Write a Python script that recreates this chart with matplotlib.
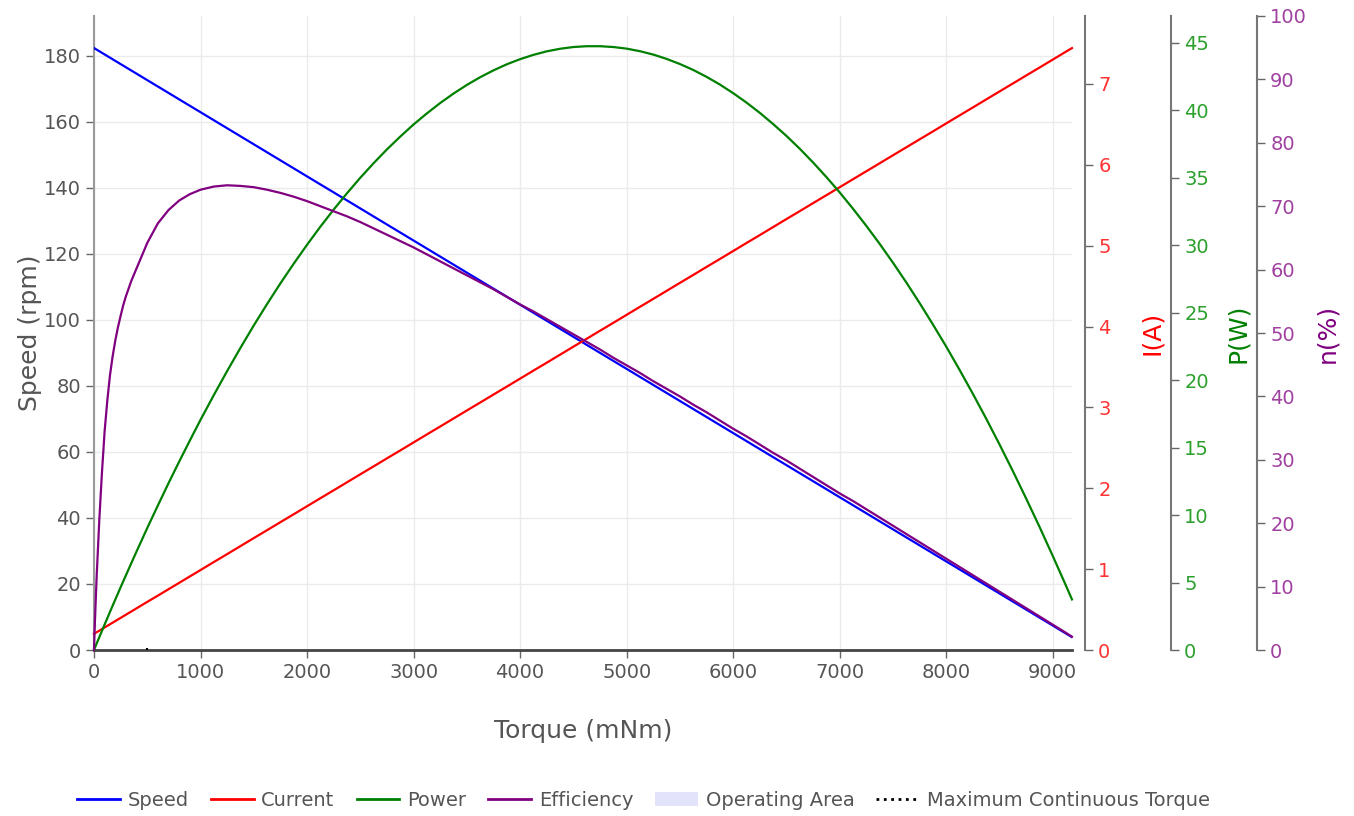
import numpy as np
import matplotlib
matplotlib.use("Agg")
import matplotlib.pyplot as plt
from matplotlib.lines import Line2D
from matplotlib.patches import Patch

# values (torque in mNm)
torque = [0, 10, 25, 50, 75, 100, 125, 150, 175, 200, 225, 250, 275, 300, 350, 400, 500,
          600, 700, 800, 900,
          1000, 1125, 1250, 1375, 1500, 1625, 1750, 1875, 2000, 2125, 2250, 2375, 2500,
          2625, 2750, 2875, 3000, 3125, 3250, 3375, 3500, 3625, 3750, 3875, 4000, 4125,
          4250, 4375, 4500, 4625, 4750, 4875, 5000, 5125, 5250, 5375, 5500, 5625, 5750,
          5875, 6000, 6125, 6250, 6375, 6500, 6625, 6750, 6875, 7000, 7125, 7250, 7375,
          7500, 7625, 7750, 7875, 8000, 8125, 8250, 8375, 8500, 8625, 8750, 8875, 9000,
          9125, 9180]
speed = [182.30, 182.11, 181.81, 181.33, 180.84, 180.36, 179.87, 179.39, 178.90, 178.41,
         177.93, 177.44, 176.96, 176.47,
         175.50, 174.53, 172.58, 170.64, 168.70, 166.75, 164.81, 162.87, 160.44, 158.01,
         155.58, 153.15, 150.72, 148.29, 145.86, 143.43, 141.00, 138.58, 136.15, 133.72,
         131.29, 128.86, 126.43, 124.00, 121.57, 119.14, 116.71, 114.28, 111.86, 109.43,
         107.00, 104.57, 102.14, 99.71, 97.28, 94.85, 92.42, 89.99, 87.56, 85.14, 82.71,
         80.28, 77.85, 75.42, 72.99, 70.56, 68.13, 65.70, 63.27, 60.84, 58.41, 55.99,
         53.56, 51.13, 48.70, 46.27, 43.84, 41.41, 38.98, 36.55, 34.12, 31.69, 29.26,
         26.84, 24.41, 21.98, 19.55, 17.12, 14.69, 12.26, 9.83, 7.40, 4.97, 3.90]
current = [0.200, 0.208, 0.220, 0.239, 0.259, 0.279, 0.299, 0.318, 0.338, 0.358, 0.378,
           0.397, 0.417, 0.437, 0.476,
           0.516, 0.595, 0.673, 0.752, 0.831, 0.910, 0.989, 1.088, 1.186, 1.285, 1.384,
           1.482, 1.581, 1.679, 1.778, 1.877, 1.975, 2.074, 2.173, 2.271, 2.370, 2.468,
           2.567, 2.666, 2.764, 2.863, 2.962, 3.060, 3.159, 3.257, 3.356, 3.455, 3.553,
           3.652, 3.751, 3.849, 3.948, 4.046, 4.145, 4.244, 4.342, 4.441, 4.540, 4.638,
           4.737, 4.835, 4.934, 5.033, 5.131, 5.230, 5.329, 5.427, 5.526, 5.624, 5.723,
           5.822, 5.920, 6.019, 6.118, 6.216, 6.315, 6.413, 6.512, 6.611, 6.709, 6.808,
           6.907, 7.005, 7.104, 7.202, 7.301, 7.400, 7.443]
power = [0, 0.19, 0.48, 0.95, 1.42, 1.89, 2.35, 2.82, 3.28, 3.74, 4.19, 4.65, 5.10, 5.54,
         6.43, 7.31, 9.04, 10.72,
         12.37, 13.97, 15.53, 17.06, 18.90, 20.68, 22.40, 24.06, 25.65, 27.18, 28.64,
         30.04, 31.38, 32.65, 33.86, 35.01, 36.09, 37.11, 38.06, 38.96, 39.78, 40.55,
         41.25, 41.89, 42.46, 42.97, 43.42, 43.80, 44.12, 44.38, 44.57, 44.70, 44.76,
         44.76, 44.70, 44.58, 44.39, 44.14, 43.82, 43.44, 43.00, 42.49, 41.92, 41.28,
         40.58, 39.82, 38.99, 38.11, 37.16, 36.14, 35.06, 33.92, 32.71, 31.44, 30.11,
         28.71, 27.25, 25.72, 24.13, 22.49, 20.77, 18.99, 17.15, 15.24, 13.27, 11.23,
         9.14, 6.97, 4.75, 3.75]
efficiency = [0, 5.0, 11.5, 20.5, 28.0, 34.5, 39.3, 43.3, 46.3, 48.8, 50.9, 52.7, 54.4,
              55.8, 58.2, 60.2, 64.2,
              67.3, 69.4, 70.9, 71.9, 72.6, 73.1, 73.3, 73.2, 73.0, 72.6, 72.1, 71.5, 70.8,
              70.0, 69.2, 68.4, 67.5, 66.5, 65.5, 64.5, 63.5, 62.4, 61.3, 60.2, 59.1, 58.0,
              56.9, 55.7, 54.5, 53.4, 52.2, 51.0, 49.8, 48.6, 47.4, 46.1, 44.9, 43.7, 42.4,
              41.2, 40.0, 38.7, 37.5, 36.2, 34.9, 33.7, 32.4, 31.1, 29.9, 28.6, 27.3, 26.0,
              24.7, 23.5, 22.2, 20.9, 19.6, 18.3, 17.0, 15.7, 14.4, 13.1, 11.8, 10.5, 9.2,
              7.9, 6.6, 5.3, 4.0, 2.7, 2.1]
max_cont_torque = 500

gray = "#666666"
txt = "#555555"
fig = plt.figure(figsize=(13.54, 8.16), dpi=100)
ax = fig.add_axes([0.0694, 0.2034, 0.7223, 0.777])

ax.plot(torque, speed, color="#0000ff", lw=1.6, zorder=5)
ax.set_xlim(0, 9180)
ax.set_ylim(0, 192)
ax.set_xticks(range(0, 9001, 1000))
ax.set_yticks(range(0, 181, 20))
ax.grid(True, color="#ebebeb", lw=1)
ax.set_axisbelow(True)
for s in ["top", "right"]:
    ax.spines[s].set_visible(False)
ax.spines["left"].set_color("#999999")
ax.spines["left"].set_linewidth(1.5)
ax.spines["bottom"].set_color("#444444")
ax.spines["bottom"].set_linewidth(2)
ax.tick_params(colors=gray, labelsize=14, length=6, width=1, labelcolor=txt)
ax.set_xlabel("Torque (mNm)", fontsize=18, color=txt, va="center")
ax.set_ylabel("Speed (rpm)", fontsize=18, color=txt, va="center")
ax.xaxis.set_label_coords(0.5, -0.128)
ax.yaxis.set_label_coords(-0.0654, 0.5)
ax.plot([max_cont_torque, max_cont_torque], [0, 0.5], color="black", ls=":", lw=1.5, zorder=6)

axI = ax.twinx()
axP = ax.twinx()
axN = ax.twinx()
specs = [(axI, current, "#ff0000", "#ff3333", "I(A)", 1.0133, 1.0818, (0, 7.84), range(0, 8)),
         (axP, power, "#008000", "#2ca02c", "P(W)", 1.1012, 1.1697, (0, 47), range(0, 46, 5)),
         (axN, efficiency, "#800080", "#a040a0", "n(%)", 1.1892, 1.2607, (0, 100), range(0, 101, 10))]
for a, data, lc, tc, lab, pos, labx, lim, ticks in specs:
    a.plot(torque, data, color=lc, lw=1.6, zorder=5, clip_on=False)
    a.set_ylim(*lim)
    a.set_yticks(list(ticks))
    for s in ["top", "left", "bottom"]:
        a.spines[s].set_visible(False)
    a.spines["right"].set_position(("axes", pos))
    a.spines["right"].set_color("#777777")
    a.spines["right"].set_linewidth(1.5)
    a.tick_params(axis="y", colors=gray, labelcolor=tc, labelsize=14, length=6, width=1)
    a.set_ylabel(lab, fontsize=18, color=lc, va="center")
    a.yaxis.set_label_coords(labx, 0.5)

handles = [Line2D([], [], color="#0000ff", lw=2),
           Line2D([], [], color="#ff0000", lw=2),
           Line2D([], [], color="#008000", lw=2),
           Line2D([], [], color="#800080", lw=2),
           Patch(facecolor="#e3e3fb", edgecolor="none"),
           Line2D([], [], color="black", lw=2, ls=":")]
labels = ["Speed", "Current", "Power", "Efficiency", "Operating Area", "Maximum Continuous Torque"]
leg = fig.legend(handles, labels, loc="center", bbox_to_anchor=(0.4753, 0.0196), ncol=6,
                 frameon=False, fontsize=14, handlelength=2.2, columnspacing=1.13,
                 handletextpad=0.4)
for t in leg.get_texts():
    t.set_color(txt)

fig.savefig("out.png", dpi=100)
